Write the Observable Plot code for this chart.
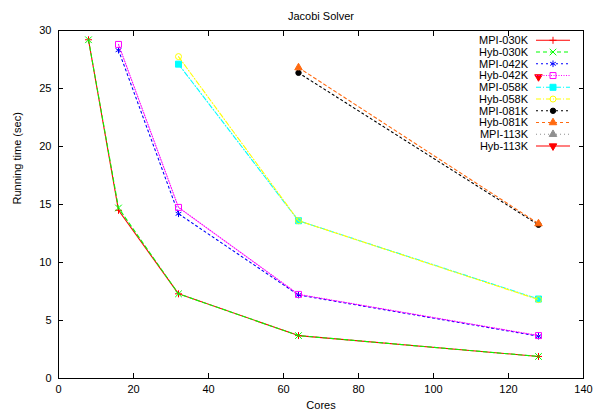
<!DOCTYPE html>
<html><head><meta charset="utf-8">
<script src="https://cdn.jsdelivr.net/npm/d3@7"></script>
<script src="https://cdn.jsdelivr.net/npm/@observablehq/plot@0.6"></script>
<style>body{margin:0;background:#fff}</style>
</head><body><div id="chart"></div>
<script>
// ---- data ----
const seriesNames = ["MPI-030K","Hyb-030K","MPI-042K","Hyb-042K","MPI-058K","Hyb-058K","MPI-081K","Hyb-081K","MPI-113K","Hyb-113K"];
const cores030 = [8, 16, 32, 64, 128];
const mpi030 = [29.2, 14.5, 7.3, 3.7, 1.9];
const hyb030 = [29.2, 14.7, 7.3, 3.7, 1.9];
const cores042 = [16, 32, 64, 128];
const mpi042 = [28.3, 14.2, 7.2, 3.65];
const hyb042 = [28.8, 14.75, 7.25, 3.7];
const cores058 = [32, 64, 128];
const mpi058 = [27.1, 13.6, 6.85];
const hyb058 = [27.75, 13.6, 6.8];
const cores081 = [64, 128];
const mpi081 = [26.35, 13.25];
const hyb081 = [26.8, 13.35];
const cores113 = [128];
const mpi113 = [];
const hyb113 = [26.0];
const xTicks = [0, 20, 40, 60, 80, 100, 120, 140];
const yTicks = [0, 5, 10, 15, 20, 25, 30];

// ---- styles ----
const colors = ["#ff0000","#00ff00","#0000ff","#ff00ff","#00ffff","#ffff00","#000000","#ff6a10","#909090","#ff0000"];
const dashes = [null,"4,3","2,3","1,1.5","5,2,1,2","5,2,1,2","2,3","3,3","1,3",null];
const triDown = {draw(ctx, size){ const y = Math.sqrt(size/(3*Math.sqrt(3))); ctx.moveTo(0, 2*y); ctx.lineTo(-Math.sqrt(3)*y, -y); ctx.lineTo(Math.sqrt(3)*y, -y); ctx.closePath(); }};
const symbols = [d3.symbolPlus, d3.symbolTimes, d3.symbolAsterisk, d3.symbolSquare2, d3.symbolSquare, d3.symbolCircle, d3.symbolCircle, d3.symbolTriangle, d3.symbolTriangle, triDown];
const filled = [false,false,false,false,true,false,true,true,true,true];
const radii = [2.4, 3.1, 3.1, 3.8, 3.4, 3.0, 2.7, 2.8, 2.8, 2.8];

const seriesX = [cores030, cores030, cores042, cores042, cores058, cores058, cores081, cores081, cores113, cores113];
const seriesY = [mpi030, hyb030, mpi042, hyb042, mpi058, hyb058, mpi081, hyb081, mpi113, hyb113];
const rowsOf = i => seriesY[i].map((y, j) => ({x: seriesX[i][j], y}));

const font = "'Liberation Sans', Arial, Helvetica, sans-serif";
const plot = Plot.plot({
  width: 595, height: 417,
  marginLeft: 58, marginRight: 12, marginTop: 30, marginBottom: 39,
  style: {fontFamily: font, fontSize: "11px", background: "#fff", color: "#000"},
  x: {domain: [0, 140]},
  y: {domain: [0, 30]},
  marks: [
    Plot.frame({stroke: "#000", strokeWidth: 1}),
    Plot.axisX({ticks: xTicks, tickSize: -5, tickPadding: 12, label: null, fontSize: 11}),
    Plot.axisX({anchor: "top", ticks: xTicks, tickSize: -5, tickFormat: () => "", label: null}),
    Plot.axisY({ticks: yTicks, tickSize: -5, tickPadding: 12, label: null, fontSize: 11}),
    Plot.axisY({anchor: "right", ticks: yTicks, tickSize: -5, tickFormat: () => "", label: null}),
    ...seriesNames.flatMap((name, i) => [
      Plot.line(rowsOf(i), {x: "x", y: "y", stroke: colors[i], strokeWidth: 1.1, strokeDasharray: dashes[i]}),
      Plot.dot(rowsOf(i), {x: "x", y: "y", symbol: symbols[i], r: radii[i], stroke: colors[i], strokeWidth: 1, fill: filled[i] ? colors[i] : "none"})
    ]),
    Plot.text(["Jacobi Solver"], {text: d => d, frameAnchor: "top", dy: -18, fontSize: 11}),
    Plot.text(["Cores"], {text: d => d, frameAnchor: "bottom", dy: 30, fontSize: 11}),
    Plot.text(["Running time (sec)"], {text: d => d, frameAnchor: "left", dx: -41, rotate: -90, fontSize: 11})
  ]
});
document.getElementById("chart").appendChild(plot);

// ---- legend (gnuplot-style key, inside plot, top right) ----
const svg = d3.select(plot);
const key = svg.append("g").attr("font-family", font).attr("font-size", 11);
seriesNames.forEach((name, i) => {
  const y = 40.3 + i * 11.75;
  key.append("text").attr("x", 528).attr("y", y).attr("dy", "0.35em").attr("text-anchor", "end").text(name);
  key.append("line").attr("x1", 536).attr("x2", 570).attr("y1", y).attr("y2", y)
    .attr("stroke", colors[i]).attr("stroke-width", 1.1).attr("stroke-dasharray", dashes[i]);
  key.append("path").attr("transform", `translate(553,${y})`)
    .attr("d", d3.symbol(symbols[i], Math.PI * radii[i] * radii[i])())
    .attr("stroke", colors[i]).attr("fill", filled[i] ? colors[i] : "none").attr("stroke-width", 1);
});
</script>
</body></html>
